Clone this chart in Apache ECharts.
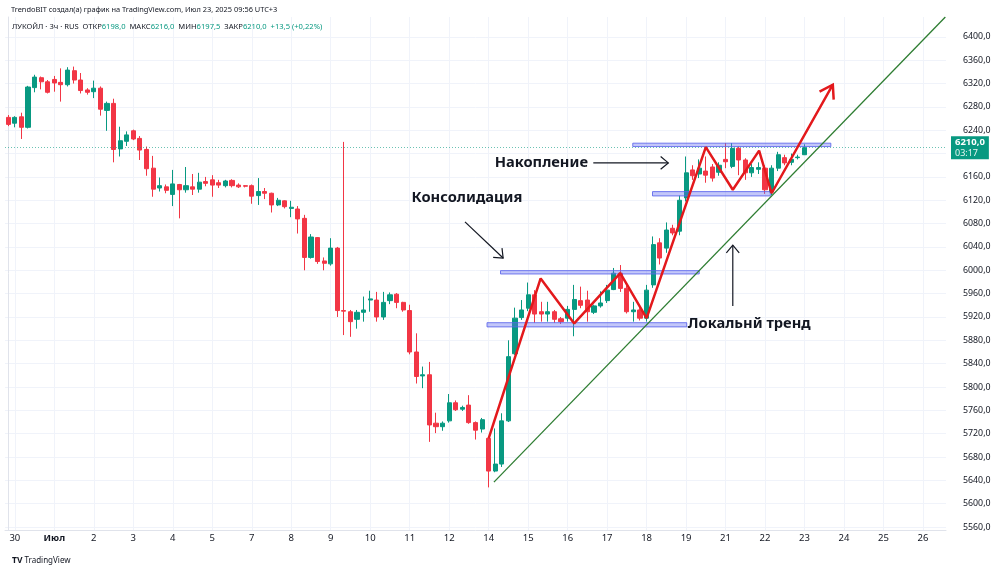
<!DOCTYPE html>
<html>
<head>
<meta charset="utf-8">
<script src="https://cdn.jsdelivr.net/npm/echarts@6/dist/echarts.min.js"></script>
<style>
  html, body { margin: 0; padding: 0; background: #fff; }
  #chart { width: 1000px; height: 570px; }
</style>
</head>
<body>
<div id="chart"></div>
<script>
// --- data ---------------------------------------------------------------
// day labels of the time scale, 6 three-hour candles per trading day
var dayLabels = ['30', 'Июл', '2', '3', '4', '5', '7', '8', '9', '10', '11', '12',
                 '14', '15', '16', '17', '18', '19', '21', '22', '23', '24', '25', '26'];
var slotsPerDay = 6;
var slotCount = 143;   // one slot before "30" + future slots up to the price scale

// OHLC of the 3h candles (slot 0 = last candle before June 30)
var opens = [6262,6252,6263,6245,6313,6330,6323,6327,6322,6318,6342,6326,6309,6306,6312,6274,6286,6208,6221,6239,
  6226,6207,6175,6141,6143,6130,6147,6138,6143,6139,6152,6155,6150,6145,6154,6146,6145,6145,6128,6135,
  6132,6112,6119,6106,6105,6089,6022,6056,6016,6011,6038,5931,5929,5916,5928,5949,5949,5920,5948,5959,
  5945,5931,5860,5819,5821,5738,5732,5742,5773,5762,5769,5739,5728,5712,5656,5668,5742,5857,5919,5935,
  5958,5929,5925,5929,5917,5918,5933,5948,5949,5928,5939,5948,5967,5995,5969,5929,5932,5918,5975,6047,
  6038,6072,6067,6124,6172,6165,6170,6177,6168,6190,6178,6209,6189,6167,6173,6175,6134,6175,6193,6185,
  6193,6198];
var closes = [6250,6262,6245,6314,6331,6323,6305,6321,6318,6343,6326,6308,6305,6312,6276,6286,6207,6222,6232,6225,
  6206,6174,6139,6145,6137,6148,6138,6145,6139,6151,6149,6146,6146,6153,6145,6143,6144,6127,6135,6132,
  6112,6120,6109,6108,6088,6022,6057,6015,6012,6038,5931,5930,5912,5928,5932,5951,5920,5945,5958,5945,
  5932,5860,5818,5821,5735,5732,5738,5773,5761,5765,5739,5726,5744,5656,5668,5742,5852,5918,5932,5958,
  5925,5925,5929,5916,5912,5933,5950,5940,5929,5939,5944,5966,5995,5969,5929,5932,5918,5966,6044,6021,
  6069,6064,6120,6167,6162,6175,6163,6158,6180,6186,6209,6189,6167,6176,6176,6138,6175,6198,6184,6190,
  6194,6210];
var lows = [6247,6245,6225,6243,6305,6310,6303,6306,6289,6315,6320,6303,6301,6295,6265,6239,6185,6195,6213,6223,
  6189,6162,6126,6135,6132,6110,6089,6133,6129,6133,6144,6126,6141,6142,6142,6141,6142,6114,6112,6122,
  6099,6110,6106,6091,6063,6000,6020,6011,6000,6008,5920,5889,5886,5900,5912,5929,5912,5915,5942,5935,
  5929,5856,5806,5798,5706,5721,5725,5739,5759,5759,5737,5710,5722,5628,5654,5663,5740,5855,5915,5930,
  5910,5912,5912,5910,5908,5912,5887,5935,5912,5925,5936,5944,5966,5963,5926,5912,5914,5912,5970,6010,
  6030,6060,6060,6118,6155,6158,6150,6152,6162,6175,6175,6163,6155,6160,6165,6131,6129,6170,6180,6180,
  6190,6197.5];
var highs = [6266,6264,6270,6316,6335,6332,6326,6333,6346,6348,6349,6338,6312,6325,6315,6289,6294,6246,6238,6241,
  6230,6212,6196,6159,6147,6172,6148,6177,6165,6167,6160,6163,6155,6155,6156,6149,6146,6147,6158,6141,
  6133,6124,6120,6119,6110,6095,6062,6057,6022,6055,6040,6220,5932,5932,5955,5965,5963,5963,5962,5961,
  5946,5941,5892,5835,5843,5756,5741,5788,5777,5768,5786,5741,5747,5715,5729,5755,5880,5936,5949,5979,
  5966,5946,5946,5932,5920,5939,5975,5972,5965,5941,5964,5975,6004,6009,5974,5946,5935,5975,6058,6055,
  6082,6078,6128,6195,6180,6190,6195,6182,6185,6218,6218,6212,6192,6182,6185,6180,6180,6203,6198,6200,
  6198,6216];

// price grid lines, and the labels shown on the price scale (6200 sits under the last-price tag)
var yTicks = [5560, 5600, 5640, 5680, 5720, 5760, 5800, 5840, 5880, 5920, 5960, 6000,
              6040, 6080, 6120, 6160, 6200, 6240, 6280, 6320, 6360, 6400];
var yLabels = [5560, 5600, 5640, 5680, 5720, 5760, 5800, 5840, 5880, 5920, 5960, 6000,
               6040, 6080, 6120, 6160, 6240, 6280, 6320, 6360, 6400];
var lastPrice = 6210;

// drawing annotations, in (slot, price)
var zoneX0 = [74.8, 72.75, 94.9, 97.9];
var zoneX1 = [105.0, 103.1, 125.0, 115.8];
var zoneY0 = [5993.7, 5903, 6212, 6127.4];
var zoneY1 = [5999.4, 5910.2, 6217.8, 6134.8];

var zigX = [73.0, 80.9, 86.0, 93.0, 97.0, 106.0, 110.1, 114.1, 116.0, 125.3];
var zigY = [5712, 5986, 5909, 5995, 5918, 6211, 6138, 6205, 6132, 6318];

var trendX = [73.8, 142.4];
var trendY = [5637, 6434];

var arrowX1 = [69.4, 88.9, 110.1];
var arrowY1 = [6083, 6184, 5939];
var arrowX2 = [75.2, 100.3, 110.1];
var arrowY2 = [6021, 6184, 6043];

var noteText = ['Консолидация', 'Накопление', 'Локальнй тренд'];
var noteX = [69.7, 81.0, 112.6];
var noteY = [6124, 6184, 5908];

// --- build --------------------------------------------------------------
var fmt = function (v) { return v.toFixed(1).replace('.', ','); };

var slotLabel = [];
var slotNames = [];
for (var i = 0; i < slotCount; i++) { slotLabel.push(''); slotNames.push('s' + i); }
var dayStarts = [];
dayLabels.forEach(function (d, k) {
  var s = 1 + k * slotsPerDay;
  if (s < slotCount) { slotLabel[s] = d; dayStarts.push(s); }
});

var ohlc = opens.map(function (o, k) { return [o, closes[k], lows[k], highs[k]]; });

var zones = zoneX0.map(function (x, k) { return [x, zoneX1[k], zoneY0[k], zoneY1[k]]; });
var zig = zigX.map(function (x, k) { return [x, zigY[k]]; });
var trend = trendX.map(function (x, k) { return [x, trendY[k]]; });
var arrows = arrowX1.map(function (x, k) { return [x, arrowY1[k], arrowX2[k], arrowY2[k]]; });
var notes = noteX.map(function (x, k) { return [x, noteY[k]]; });
var n = zigX.length;
var zigHead = [[zigX[n - 2], zigY[n - 2], zigX[n - 1], zigY[n - 1]]];

function chevron(tip, from, len, ang) {
  var dx = from[0] - tip[0], dy = from[1] - tip[1];
  var d = Math.sqrt(dx * dx + dy * dy);
  var ux = dx / d, uy = dy / d;
  function rot(a) {
    return [tip[0] + len * (ux * Math.cos(a) - uy * Math.sin(a)),
            tip[1] + len * (ux * Math.sin(a) + uy * Math.cos(a))];
  }
  return [rot(ang), tip, rot(-ang)];
}

var font = '"Noto Sans", "Open Sans", sans-serif';
var chart = echarts.init(document.getElementById('chart'));

var option = {
  animation: false,
  backgroundColor: '#ffffff',
  title: [
    {
      left: 6, top: 1,
      text: 'TrendoBIT создал(а) график на TradingView.com, Июл 23, 2025 09:56 UTC+3',
      textStyle: { fontFamily: font, fontSize: 7.4, fontWeight: 'normal', color: '#131722' }
    },
    {
      left: 7, top: 18,
      text: 'ЛУКОЙЛ · 3ч · RUS  ОТКР{v|6198,0}  МАКС{v|6216,0}  МИН{v|6197,5}  ЗАКР{v|6210,0}  {v|+13,5 (+0,22%)}',
      textStyle: {
        fontFamily: font, fontSize: 7.6, fontWeight: 'normal', color: '#131722',
        rich: { v: { fontFamily: font, fontSize: 7.6, color: '#089981' } }
      }
    },
    {
      left: 7, top: 551,
      text: '{logo|TV} TradingView',
      textStyle: {
        fontFamily: font, fontSize: 8, fontWeight: 'normal', color: '#131722',
        rich: { logo: { fontFamily: font, fontSize: 8.5, fontWeight: 'bold', color: '#131722' } }
      }
    }
  ],
  grid: { left: 5, right: 54, top: 17, bottom: 40 },
  xAxis: [
    {
      type: 'category',
      data: slotNames,
      boundaryGap: true,
      axisLine: { show: true, lineStyle: { color: '#e0e3eb' } },
      axisTick: { show: false },
      splitLine: { show: false },
      axisLabel: {
        interval: 0,
        margin: 3,
        hideOverlap: false,
        fontFamily: font,
        fontSize: 9.5,
        color: '#131722',
        formatter: function (v, idx) {
          var t = slotLabel[idx];
          return t === 'Июл' ? '{b|' + t + '}' : t;
        },
        rich: { b: { fontFamily: font, fontSize: 9.5, fontWeight: 'bold', color: '#131722' } }
      }
    },
    {
      type: 'value',
      min: -0.5,
      max: slotCount - 0.5,
      show: true,
      axisLine: { show: false },
      axisLabel: { show: false },
      axisTick: { show: false, customValues: dayStarts },
      splitLine: { show: true, lineStyle: { color: '#f0f3fa', width: 1 } }
    }
  ],
  yAxis: {
    type: 'value',
    position: 'right',
    min: 5555,
    max: 6434,
    axisLine: { show: true, lineStyle: { color: '#e0e3eb' } },
    axisTick: { show: false, customValues: yTicks },
    axisLabel: {
      customValues: yLabels,
      margin: 17,
      fontFamily: font,
      fontSize: 8.8,
      color: '#131722',
      formatter: fmt
    },
    splitLine: { show: true, lineStyle: { color: '#f0f3fa', width: 1 } }
  },
  series: [
    {
      name: 'ЛУКОЙЛ',
      type: 'candlestick',
      xAxisIndex: 0,
      data: ohlc,
      barWidth: '70%',
      itemStyle: {
        color: '#089981', color0: '#f23645',
        borderColor: '#089981', borderColor0: '#f23645', borderWidth: 1
      },
      markLine: {
        silent: true,
        symbol: ['none', 'none'],
        data: [{ yAxis: lastPrice }],
        lineStyle: { type: [1, 2], color: 'rgba(8,153,129,0.6)', width: 1 },
        label: {
          show: true,
          position: 'end',
          distance: 5,
          formatter: '{p|' + fmt(lastPrice) + '}\n03:17',
          backgroundColor: '#089981',
          color: '#e6f5f1',
          fontFamily: font,
          fontSize: 9,
          lineHeight: 10,
          padding: [1, 4, 1, 4],
          rich: { p: { fontFamily: font, fontSize: 9.5, fontWeight: 'bold', color: '#ffffff', lineHeight: 11 } }
        }
      },
      z: 3
    },
    {
      name: 'zones',
      type: 'custom',
      xAxisIndex: 1,
      data: zones,
      renderItem: function (params, api) {
        var p0 = api.coord([api.value(0), api.value(2)]);
        var p1 = api.coord([api.value(1), api.value(3)]);
        return {
          type: 'rect',
          shape: { x: p0[0], y: p1[1], width: p1[0] - p0[0], height: p0[1] - p1[1] },
          style: { fill: 'rgba(98,108,240,0.38)', stroke: 'rgba(90,100,235,0.85)', lineWidth: 1 }
        };
      },
      z: 4
    },
    {
      name: 'trend',
      type: 'line',
      xAxisIndex: 1,
      data: trend,
      showSymbol: false,
      symbol: 'none',
      lineStyle: { color: '#2e7d32', width: 1.3 },
      z: 5
    },
    {
      name: 'zigzag',
      type: 'line',
      xAxisIndex: 1,
      data: zig,
      showSymbol: false,
      symbol: 'none',
      lineStyle: { color: '#e3191c', width: 2.5 },
      z: 6
    },
    {
      name: 'zigzag head',
      type: 'custom',
      xAxisIndex: 1,
      data: zigHead,
      renderItem: function (params, api) {
        var from = api.coord([api.value(0), api.value(1)]);
        var tip = api.coord([api.value(2), api.value(3)]);
        return {
          type: 'polyline',
          shape: { points: chevron(tip, from, 15, Math.PI / 5.5) },
          style: { stroke: '#e3191c', lineWidth: 2.5, fill: null }
        };
      },
      z: 6
    },
    {
      name: 'arrows',
      type: 'custom',
      xAxisIndex: 1,
      data: arrows,
      renderItem: function (params, api) {
        var from = api.coord([api.value(0), api.value(1)]);
        var tip = api.coord([api.value(2), api.value(3)]);
        return {
          type: 'group',
          children: [
            { type: 'line', shape: { x1: from[0], y1: from[1], x2: tip[0], y2: tip[1] },
              style: { stroke: '#131722', lineWidth: 1.2 } },
            { type: 'polyline', shape: { points: chevron(tip, from, 10, Math.PI / 4.5) },
              style: { stroke: '#131722', lineWidth: 1.2, fill: null } }
          ]
        };
      },
      z: 7
    },
    {
      name: 'notes',
      type: 'custom',
      xAxisIndex: 1,
      data: notes,
      renderItem: function (params, api) {
        var p = api.coord([api.value(0), api.value(1)]);
        return {
          type: 'text',
          x: p[0], y: p[1],
          style: {
            text: noteText[params.dataIndex],
            fill: '#131722',
            font: 'bold 14.7px "Noto Sans", "Open Sans", sans-serif',
            align: 'center',
            verticalAlign: 'middle'
          }
        };
      },
      z: 8
    }
  ]
};

chart.setOption(option);
</script>
</body>
</html>
